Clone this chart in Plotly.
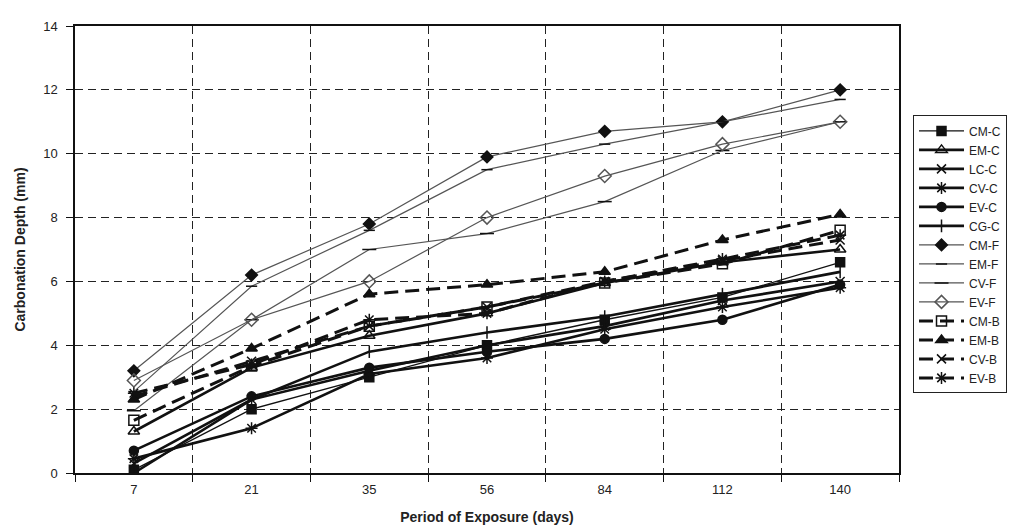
import plotly.graph_objects as go

periods = ["7", "21", "35", "56", "84", "112", "140"]

cm_c = [0.1, 2.0, 3.0, 4.0, 4.8, 5.5, 6.6]
em_c = [1.3, 3.3, 4.3, 5.0, 5.95, 6.6, 7.0]
lc_c = [0.3, 2.3, 3.2, 4.0, 4.6, 5.4, 6.0]
cv_c = [0.45, 1.4, 3.1, 3.6, 4.5, 5.2, 5.8]
ev_c = [0.7, 2.4, 3.3, 3.8, 4.2, 4.8, 5.9]
cg_c = [0.0, 2.3, 3.8, 4.4, 4.9, 5.6, 6.3]
cm_f = [3.2, 6.2, 7.8, 9.9, 10.7, 11.0, 12.0]
em_f = [2.55, 5.85, 7.6, 9.5, 10.3, 11.0, 11.7]
cv_f = [1.95, 4.8, 7.0, 7.5, 8.5, 10.1, 11.0]
ev_f = [2.9, 4.8, 6.0, 8.0, 9.3, 10.3, 11.0]
cm_b = [1.65, 3.35, 4.6, 5.2, 5.95, 6.55, 7.6]
em_b = [2.3, 3.9, 5.6, 5.9, 6.3, 7.3, 8.1]
cv_b = [2.4, 3.5, 4.6, 5.2, 6.0, 6.65, 7.3]
ev_b = [2.5, 3.4, 4.8, 5.0, 6.0, 6.7, 7.45]

series = [
    ("CM-C", cm_c), ("EM-C", em_c), ("LC-C", lc_c), ("CV-C", cv_c),
    ("EV-C", ev_c), ("CG-C", cg_c), ("CM-F", cm_f), ("EM-F", em_f),
    ("CV-F", cv_f), ("EV-F", ev_f), ("CM-B", cm_b), ("EM-B", em_b),
    ("CV-B", cv_b), ("EV-B", ev_b),
]

styles = {
    "CM-C": dict(w=1.3, color="#111", dash="solid", sym="square", ms=9, mcol="#111"),
    "EM-C": dict(w=2.6, color="#111", dash="solid", sym="triangle-up-open", ms=10, mcol="#111"),
    "LC-C": dict(w=2.6, color="#111", dash="solid", sym="x-thin-open", ms=9, mcol="#111"),
    "CV-C": dict(w=2.6, color="#111", dash="solid", sym="asterisk-open", ms=10, mcol="#111"),
    "EV-C": dict(w=2.6, color="#111", dash="solid", sym="circle", ms=9, mcol="#111"),
    "CG-C": dict(w=2.6, color="#111", dash="solid", sym="line-ns-open", ms=9, mcol="#111"),
    "CM-F": dict(w=1.2, color="#555", dash="solid", sym="diamond", ms=9, mcol="#111"),
    "EM-F": dict(w=1.2, color="#555", dash="solid", sym="line-ew-open", ms=8, mcol="#111"),
    "CV-F": dict(w=1.2, color="#555", dash="solid", sym="line-ew-open", ms=10, mcol="#111"),
    "EV-F": dict(w=1.2, color="#555", dash="solid", sym="diamond-open", ms=10, mcol="#555"),
    "CM-B": dict(w=3, color="#111", dash="14px,7px", sym="square-open", ms=10, mcol="#111"),
    "EM-B": dict(w=3, color="#111", dash="14px,7px", sym="triangle-up", ms=10, mcol="#111"),
    "CV-B": dict(w=3, color="#111", dash="14px,7px", sym="x-thin-open", ms=9, mcol="#111"),
    "EV-B": dict(w=3, color="#111", dash="14px,7px", sym="asterisk-open", ms=10, mcol="#111"),
}

fig = go.Figure()
for name, vals in series:
    s = styles[name]
    fig.add_trace(go.Scatter(
        x=periods, y=vals, name=name, mode="lines+markers",
        line=dict(color=s["color"], width=s["w"], dash=s["dash"]),
        marker=dict(symbol=s["sym"], size=s["ms"], color=s["mcol"],
                    line=dict(color=s["mcol"], width=1.5)),
    ))

# dashed vertical grid lines at category centres
for p in periods:
    fig.add_shape(type="line", xref="x", yref="paper", x0=p, x1=p, y0=0, y1=1,
                  line=dict(color="#222", width=1.3, dash="8px,5px"), layer="below")

fig.update_layout(
    width=1016, height=531,
    margin=dict(l=67, r=125, t=11, b=66),
    paper_bgcolor="white", plot_bgcolor="white",
    font=dict(family="Liberation Sans, Arial", color="#222", size=13),
    legend=dict(
        x=1.017, y=0.80, xanchor="left", yanchor="top",
        bordercolor="#222", borderwidth=1, bgcolor="white",
        font=dict(size=12, color="#222"), tracegroupgap=0, itemwidth=45,
    ),
    xaxis=dict(
        type="category", categoryorder="array", categoryarray=periods,
        tickson="boundaries", showgrid=True, gridcolor="#222", griddash="8px,5px",
        gridwidth=1.3, showline=True, linecolor="#111", linewidth=1.5, mirror=True,
        ticks="outside", ticklen=7, tickcolor="#111", ticklabelstandoff=4,
        tickfont=dict(size=13, color="#222"),
        title=dict(text="<b>Period of Exposure (days)</b>", font=dict(size=14, color="#222"), standoff=16),
        range=[-0.5, 6.5],
    ),
    yaxis=dict(
        range=[0, 14], dtick=2, showgrid=True, gridcolor="#222", griddash="8px,5px",
        gridwidth=1.3, showline=True, linecolor="#111", linewidth=1.5, mirror=True,
        ticks="outside", ticklen=7, tickcolor="#111", zeroline=False, ticklabelstandoff=6,
        tickfont=dict(size=13, color="#222"),
        title=dict(text="<b>Carbonation Depth (mm)</b>", font=dict(size=14, color="#222"), standoff=14),
    ),
)

fig.write_html("out.html")
